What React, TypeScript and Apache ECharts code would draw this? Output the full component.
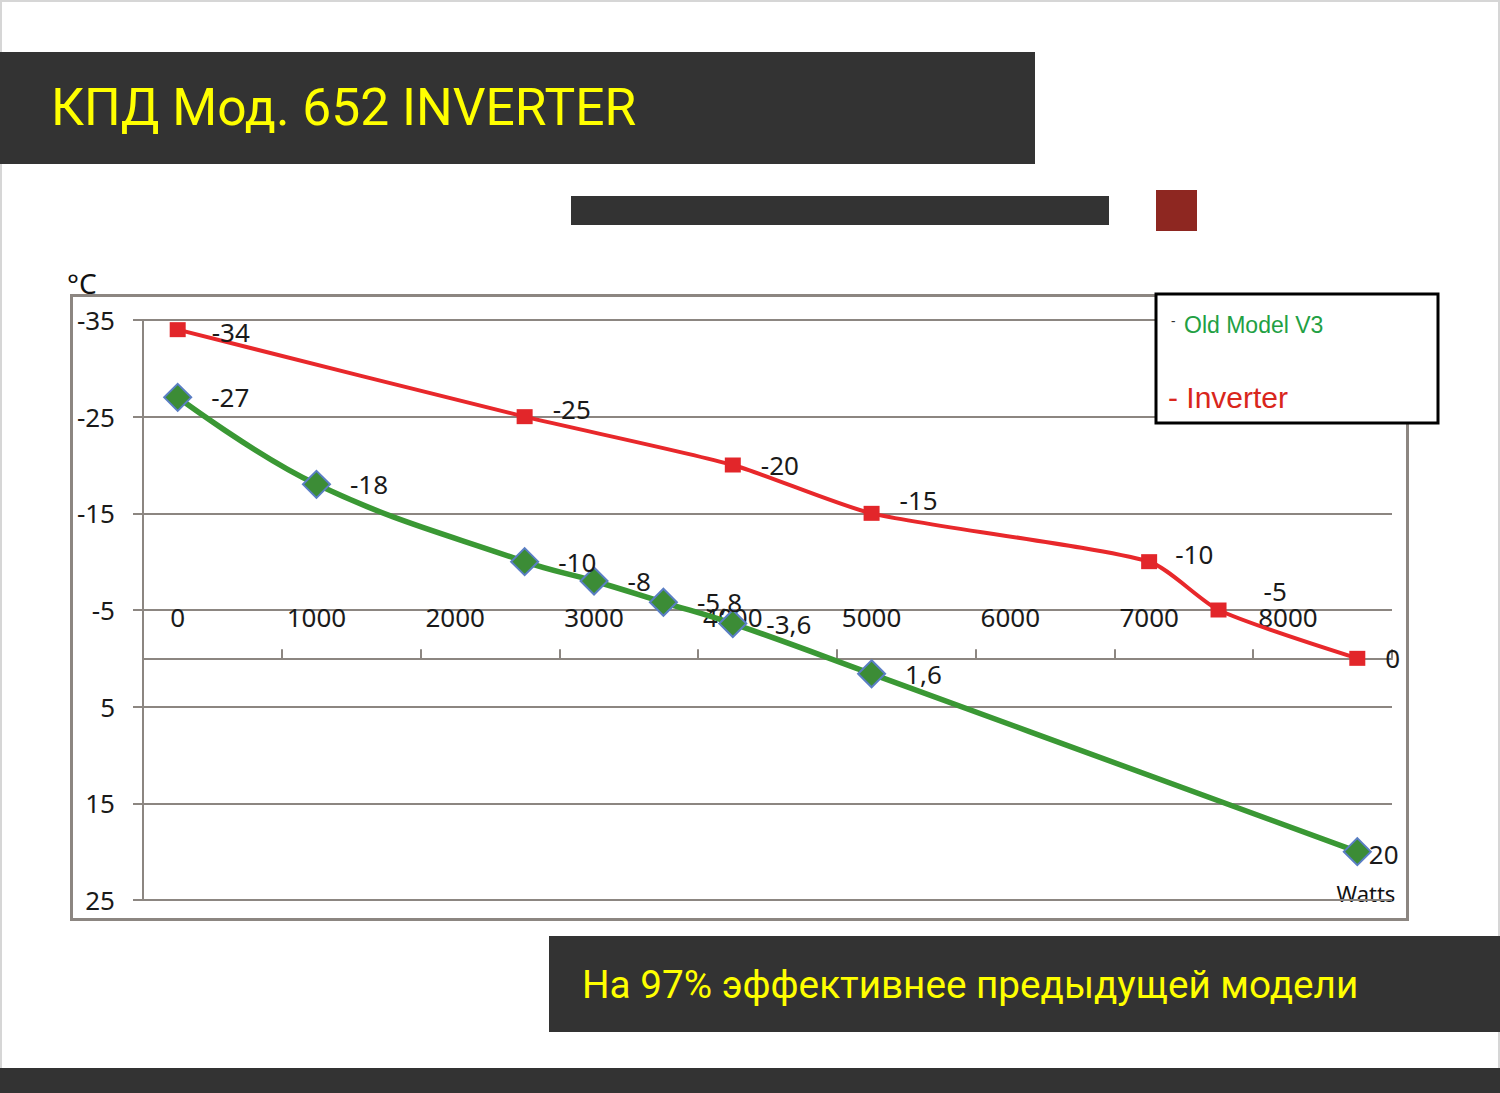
import React, { useEffect, useRef } from 'react';
import * as echarts from 'echarts';

// Inverter (red squares)
const inverterWatts = [0, 2500, 4000, 5000, 7000, 7500, 8500];
const inverterTemp = [-34, -25, -20, -15, -10, -5, 0];

// Old Model V3 (green diamonds)
const oldWatts = [0, 1000, 2500, 3000, 3500, 4000, 5000, 8500];
const oldTemp = [-27, -18, -10, -8, -5.8, -3.6, 1.6, 20];

// x labels shown on the axis
const wattLabels = [0, 1000, 2000, 3000, 4000, 5000, 6000, 7000, 8000];

const title = 'КПД Мод. 652 INVERTER';
const subtitle = 'На 97% эффективнее предыдущей модели';
const legendOld = 'Old Model V3';
const legendInverter = '- Inverter';

// hand nudges for a few point labels, [dx, dy]
const labelNudge: { [key: string]: number[] } = {
  'inv:-34': [6, 2],
  'inv:-25': [0, -8],
  'inv:-15': [0, -13],
  'inv:-10': [-2, -8],
  'inv:-5': [17, -19],
  'old:20': [-22, 2],
};

const GRID_GRAY = '#8c8681';
const LABEL_FONT = 'Noto Sans';

// grid geometry, used to drop the x axis onto y = 0
const GRID_TOP = 320;
const GRID_BOTTOM = 193;
const Y_MIN = -35;
const Y_MAX = 25;

const toPoints = (xs: number[], ys: number[], key: string) =>
  xs.map((x, i) => {
    const nudge = labelNudge[`${key}:${ys[i]}`];
    return nudge ? { value: [x, ys[i]], label: { offset: nudge } } : { value: [x, ys[i]] };
  });

const commaFormat = (p: any) => String(p.value[1]).replace('.', ',');

const App: React.FC = () => {
  const chartRef = useRef<HTMLDivElement>(null);

  useEffect(() => {
    document.body.style.margin = '0';
    if (!chartRef.current) return;

    const chart = echarts.init(chartRef.current, undefined, { renderer: 'svg' });

    const plotHeight = 1093 - GRID_TOP - GRID_BOTTOM;
    const zeroOffset = ((0 - Y_MIN) / (Y_MAX - Y_MIN)) * plotHeight;

    const pointLabel = {
      show: true,
      position: 'right',
      formatter: commaFormat,
      fontSize: 26,
      fontFamily: LABEL_FONT,
      color: '#1a1a1a',
    };

    const options: any = {
      animation: false,
      backgroundColor: '#ffffff',
      textStyle: { fontFamily: LABEL_FONT },
      grid: { left: 143, right: 108, top: GRID_TOP, bottom: GRID_BOTTOM, containLabel: false },
      xAxis: {
        type: 'value',
        min: -250,
        max: 8750,
        interval: 1000,
        position: 'top',
        offset: -zeroOffset,
        axisLine: { show: true, onZero: false, lineStyle: { color: GRID_GRAY, width: 2 } },
        axisTick: { show: true, length: 9, lineStyle: { color: GRID_GRAY, width: 2 } },
        axisLabel: {
          customValues: wattLabels,
          formatter: (v: number) => String(v),
          fontSize: 26,
          fontFamily: LABEL_FONT,
          color: '#1a1a1a',
          margin: 28,
        },
        splitLine: { show: false },
      },
      yAxis: {
        type: 'value',
        inverse: true,
        min: Y_MIN,
        max: Y_MAX,
        interval: 10,
        axisLine: { show: true, onZero: false, lineStyle: { color: GRID_GRAY, width: 2 } },
        axisTick: { show: true, length: 10, lineStyle: { color: GRID_GRAY, width: 2 } },
        axisLabel: { fontSize: 26, fontFamily: LABEL_FONT, color: '#1a1a1a', margin: 28 },
        splitLine: { show: true, lineStyle: { color: GRID_GRAY, width: 2 } },
      },
      series: [
        {
          name: legendOld,
          type: 'line',
          data: toPoints(oldWatts, oldTemp, 'old'),
          smooth: 0.4,
          symbol: 'diamond',
          symbolSize: 27,
          lineStyle: { color: '#3a9834', width: 5.5 },
          itemStyle: { color: '#3c8c36', borderColor: '#5a7ec4', borderWidth: 2 },
          label: { ...pointLabel, distance: 19 },
          z: 3,
        },
        {
          name: 'Inverter',
          type: 'line',
          data: toPoints(inverterWatts, inverterTemp, 'inv'),
          smooth: 0.22,
          symbol: 'rect',
          symbolSize: [16, 15],
          lineStyle: { color: '#e8282b', width: 4 },
          itemStyle: { color: '#e2262a' },
          label: { ...pointLabel, distance: 20 },
          z: 4,
        },
      ],
      graphic: [
        {
          type: 'rect',
          silent: true,
          shape: { x: 1, y: 1, width: 1498, height: 1091 },
          style: { fill: 'none', stroke: '#d6d6d6', lineWidth: 2 },
        },
        {
          type: 'rect',
          shape: { x: 0, y: 52, width: 1035, height: 112 },
          style: { fill: '#333333' },
        },
        {
          type: 'text',
          x: 51,
          y: 107,
          style: {
            text: title,
            fill: '#ffff00',
            fontSize: 51.5,
            fontFamily: 'Roboto',
            verticalAlign: 'middle',
          },
        },
        {
          type: 'rect',
          shape: { x: 571, y: 196, width: 538, height: 29 },
          style: { fill: '#333333' },
        },
        {
          type: 'rect',
          shape: { x: 1156, y: 190, width: 41, height: 41 },
          style: { fill: '#8e2721' },
        },
        {
          type: 'rect',
          silent: true,
          shape: { x: 71.5, y: 295.5, width: 1336, height: 624 },
          style: { fill: 'none', stroke: GRID_GRAY, lineWidth: 3 },
        },
        {
          type: 'text',
          x: 67,
          y: 283,
          style: { text: '°C', fill: '#111111', fontSize: 28, fontFamily: LABEL_FONT, verticalAlign: 'middle' },
        },
        {
          type: 'text',
          x: 1366,
          y: 893,
          style: {
            text: 'Watts',
            fill: '#111111',
            fontSize: 22,
            fontFamily: LABEL_FONT,
            align: 'center',
            verticalAlign: 'middle',
          },
        },
        {
          type: 'rect',
          z: 10,
          shape: { x: 1156, y: 294, width: 282, height: 129 },
          style: { fill: '#ffffff', stroke: '#000000', lineWidth: 3 },
        },
        {
          type: 'text',
          z: 11,
          x: 1171,
          y: 320,
          style: { text: '-', fill: '#333333', fontSize: 14, fontFamily: LABEL_FONT, verticalAlign: 'middle' },
        },
        {
          type: 'text',
          z: 11,
          x: 1184,
          y: 325,
          style: {
            text: legendOld,
            fill: '#22a043',
            fontSize: 23,
            fontFamily: 'Liberation Sans',
            verticalAlign: 'middle',
          },
        },
        {
          type: 'text',
          z: 11,
          x: 1168,
          y: 397,
          style: {
            text: legendInverter,
            fill: '#d9261c',
            fontSize: 30,
            fontFamily: 'Liberation Sans',
            verticalAlign: 'middle',
          },
        },
        {
          type: 'rect',
          shape: { x: 549, y: 936, width: 951, height: 96 },
          style: { fill: '#333333' },
        },
        {
          type: 'text',
          x: 582,
          y: 984,
          style: {
            text: subtitle,
            fill: '#ffff00',
            fontSize: 38.7,
            fontFamily: 'Roboto',
            verticalAlign: 'middle',
          },
        },
        {
          type: 'rect',
          shape: { x: 0, y: 1068, width: 1500, height: 25 },
          style: { fill: '#333333' },
        },
      ],
    };

    chart.setOption(options);

    return () => {
      chart.dispose();
    };
  }, []);

  return <div ref={chartRef} style={{ width: 1500, height: 1093 }} />;
};

export default App;
